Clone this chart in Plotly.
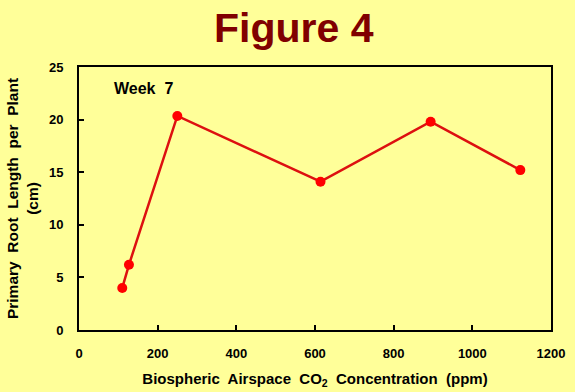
import plotly.graph_objects as go

co2_ppm = [110, 127, 250, 614, 894, 1122]
root_length_cm = [4.0, 6.2, 20.35, 14.1, 19.8, 15.2]
x_ticks = [0, 200, 400, 600, 800, 1000, 1200]
y_ticks = [0, 5, 10, 15, 20, 25]

BG = "#FFFF99"
FONT = "Liberation Sans"

fig = go.Figure()
fig.add_trace(go.Scatter(
    x=co2_ppm, y=root_length_cm, mode="lines+markers",
    line=dict(color="#DD1010", width=2.5),
    marker=dict(color="#FF0000", size=10),
    showlegend=False,
))

fig.update_layout(
    width=575, height=392,
    paper_bgcolor=BG, plot_bgcolor=BG,
    margin=dict(l=79, r=24, t=67, b=62, autoexpand=False),
    font=dict(family=FONT, color="black", size=13, weight="bold"),
    title=dict(text="Figure 4", x=0.511, xanchor="center", y=0.93, yanchor="middle",
               font=dict(family=FONT, size=41, color="#800000", weight="bold")),
    xaxis=dict(range=[0, 1200], tickvals=x_ticks, ticks="inside", ticklen=5,
               tickwidth=2, tickcolor="black", showline=True, linecolor="black",
               linewidth=2, mirror=True, showgrid=False, zeroline=False,
               ticklabelstandoff=10, automargin=False,
               title=dict(text="Biospheric&nbsp; Airspace&nbsp; CO<sub>2</sub>&nbsp; Concentration&nbsp; (ppm)",
                          font=dict(size=15, weight="bold"), standoff=14)),
    yaxis=dict(range=[0, 25], tickvals=y_ticks, ticks="inside", ticklen=5,
               tickwidth=2, tickcolor="black", showline=True, linecolor="black",
               linewidth=2, mirror=True, showgrid=False, zeroline=False,
               ticklabelstandoff=11, automargin=False,
               title=dict(text="Primary&nbsp; Root&nbsp; Length&nbsp; per&nbsp; Plant<br>(cm)",
                          font=dict(size=15.5, weight="bold"), standoff=6)),
    annotations=[dict(text="Week&nbsp; 7", x=0.07, y=0.918, xref="paper", yref="paper",
                      xanchor="left", yanchor="middle", showarrow=False,
                      font=dict(size=16, weight="bold", color="black"))],
)

fig.write_html("out.html", config={"displayModeBar": False},
               post_script="document.body.style.margin='0';")
